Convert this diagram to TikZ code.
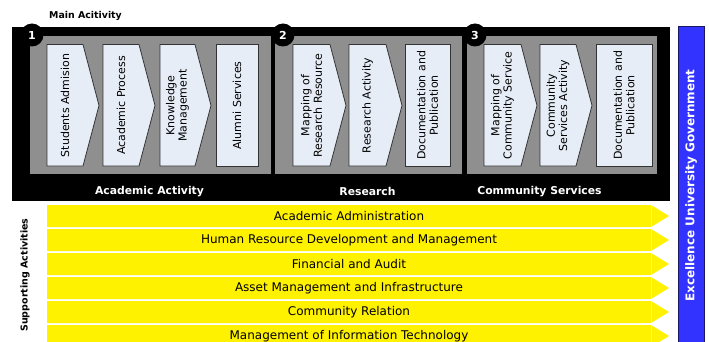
\documentclass[tikz,border=0pt]{standalone}
\usepackage{fontspec}
\setmainfont{DejaVu Sans}
\definecolor{panelgray}{RGB}{143,143,143}
\definecolor{boxfill}{RGB}{231,237,247}
\definecolor{barblue}{RGB}{51,51,255}
\definecolor{barnavy}{RGB}{24,24,96}
\newcommand{\boxfont}{\fontsize{11}{12.4}\selectfont}
% chevron stage: left x, tip x, node name, label
\newcommand{\stagechevron}[4]{
  \draw[stage] (#1,44.5)--(#2-16,44.5)--(#2,105.5)--(#2-16,166)--(#1,166)--cycle;
  \node[stagetext] (#3) at ({(#1+#2-16)/2},105.5) {#4};
}
% last stage of a block: left x, right x, node name, label
\newcommand{\stageend}[4]{
  \draw[stage] (#1,44.5) rectangle (#2,166);
  \node[stagetext] (#3) at ({(#1+#2)/2},105.5) {#4};
}
\newcommand{\blocknumber}[3]{
  \fill (#1,35) circle (11.5);
  \node[numtext] (#2) at (#1,35.5) {#3};
}
\tikzset{
  stage/.style={fill=boxfill,draw=black!80,line width=0.8pt},
  stagetext/.style={rotate=90,align=center,font=\boxfont,inner sep=0pt},
  numtext/.style={text=white,font=\fontsize{11}{12}\selectfont\bfseries,inner sep=0pt},
  blocktitle/.style={text=white,font=\fontsize{10.8}{12}\selectfont\bfseries,inner sep=0pt},
  bartext/.style={font=\fontsize{12}{13}\selectfont,inner sep=0pt}
}

\begin{document}
\begin{tikzpicture}[x=1pt,y=-1pt]
\useasboundingbox (0,0) rectangle (709,342);
\node[font=\fontsize{9.4}{11}\selectfont\bfseries,anchor=west,inner sep=0pt] (main) at (49,16) {Main Acitivity};
% main activities
\fill (12,27) rectangle (670,201);
\fill[panelgray] (30,36) rectangle (271,174);
\fill[panelgray] (275,36) rectangle (462,174);
\fill[panelgray] (467,36) rectangle (657,174);
\blocknumber{32}{num1}{1}
\blocknumber{283}{num2}{2}
\blocknumber{475}{num3}{3}
\stagechevron{47}{99}{admision}{Students Admision}
\stagechevron{103}{155}{process}{Academic Process}
\stagechevron{160}{211}{knowledge}{Knowledge\\Management}
\stageend{216}{258}{alumni}{Alumni Services}
\stagechevron{293}{346}{mapres}{Mapping of\\Research Resource}
\stagechevron{349}{402}{resact}{Research Activity}
\stageend{405}{450}{resdoc}{Documentation and\\Publication}
\stagechevron{484}{537}{mapcom}{Mapping of\\Community Service}
\stagechevron{540}{592}{comact}{Community\\Services Activity}
\stageend{596}{652}{comdoc}{Documentation and\\Publication}
\node[blocktitle] (academic) at (149.5,191.5) {Academic Activity};
\node[blocktitle] (research) at (367.5,191.5) {Research};
\node[blocktitle] (community) at (539.5,191.5) {Community Services};
% supporting activities
\foreach \i/\nm/\txt in {0/acadadm/Academic Administration,1/hrdm/Human Resource Development and Management,2/finance/Financial and Audit,3/asset/Asset Management and Infrastructure,4/relation/Community Relation,5/infotech/Management of Information Technology}{
  \fill[yellow] (47,205+24*\i)--(651,205+24*\i)--(669,216+24*\i)--(651,227+24*\i)--(47,227+24*\i)--cycle;
  \draw[yellow!55!white,line width=0.4pt] (651,205+24*\i)--(651,227+24*\i);
  \node[bartext] (\nm) at (349,216+24*\i) {\txt};
}
\node[rotate=90,font=\fontsize{9.5}{11}\selectfont\bfseries,inner sep=0pt] (support) at (25,275) {Supporting Activities};
\draw[fill=barblue,draw=barnavy,line width=1pt] (678,27) rectangle (704,346);
\node[rotate=90,text=white,font=\fontsize{12}{13}\selectfont\bfseries,inner sep=0pt] (excellence) at (691,185.5) {Excellence University Government};
\end{tikzpicture}
\end{document}
